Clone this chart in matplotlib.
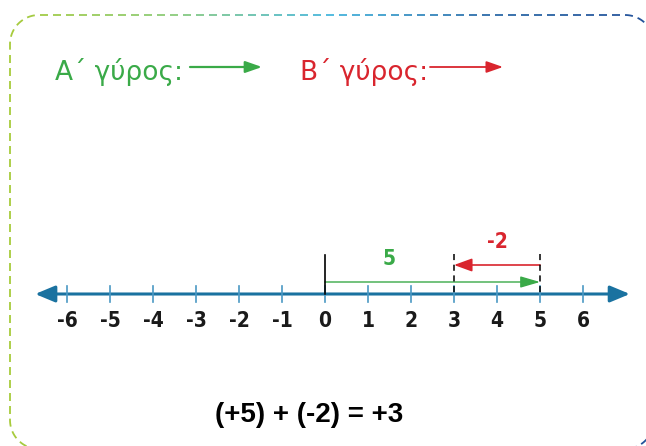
import numpy as np
import matplotlib
matplotlib.use("Agg")
import matplotlib.pyplot as plt
from matplotlib.patches import FancyArrowPatch
from matplotlib.collections import LineCollection
from matplotlib.colors import LinearSegmentedColormap

# data
ticks = [-6, -5, -4, -3, -2, -1, 0, 1, 2, 3, 4, 5, 6]
tick_labels = ["-6", "-5", "-4", "-3", "-2", "-1", "0", "1", "2", "3", "4", "5", "6"]
start = 0
first_move = 5      # A' round
second_move = -2    # B' round
result = start + first_move + second_move
equation = "(+5) + (-2) = +3"
legend_labels = ["Α΄ γύρος:", "Β΄ γύρος:"]

GREEN = "#3aaa48"
RED = "#d9252e"
AXIS_BLUE = "#1a72a0"
TICK_BLUE = "#4a98c4"

W, H = 646, 446
fig = plt.figure(figsize=(W / 100, H / 100), dpi=100)

# background axes in pixel coordinates (border, legend, equation)
bg = fig.add_axes([0, 0, 1, 1])
bg.set_xlim(0, W)
bg.set_ylim(H, 0)
bg.axis("off")

# number line axes: 1 unit = 43 px, zero at x=325 px
px0, unit = 325.0, 43.0
ax = fig.add_axes([0, 0, 1, 1])
ax.set_xlim((0 - px0) / unit, (W - px0) / unit)
ax.set_ylim(H, 0)
ax.axis("off")
ax.patch.set_alpha(0)


# dashed rounded border with colour gradient
def rounded_rect_points(x0, y0, x1, y1, r, n=60):
    pts = []
    corners = [(x1 - r, y0 + r, -90, 0), (x1 - r, y1 - r, 0, 90),
               (x0 + r, y1 - r, 90, 180), (x0 + r, y0 + r, 180, 270)]
    for cx, cy, a0, a1 in corners:
        a = np.radians(np.linspace(a0, a1, n))
        pts.extend(zip(cx + r * np.cos(a), cy + r * np.sin(a)))
    pts.append(pts[0])
    return np.array(pts)


pts = rounded_rect_points(10, 15, 654, 449, 29)
seg = np.diff(pts, axis=0)
d = np.concatenate([[0], np.cumsum(np.hypot(seg[:, 0], seg[:, 1]))])
dash, gap = 8.0, 5.0
cmap = LinearSegmentedColormap.from_list(
    "border", ["#a7cb3b", "#8ccb7a", "#45b6de", "#2c6aa8", "#24529a"])
dashes, colors = [], []
s = 0.0
while s < d[-1]:
    e = min(s + dash, d[-1])
    ss = np.linspace(s, e, 6)
    xs = np.interp(ss, d, pts[:, 0])
    ys = np.interp(ss, d, pts[:, 1])
    dashes.append(np.column_stack([xs, ys]))
    colors.append(cmap(np.clip((xs.mean() - 10) / 640, 0, 1)))
    s += dash + gap
bg.add_collection(LineCollection(dashes, colors=colors, linewidths=1.3))

# legend texts and arrows
bg.text(55, 80, legend_labels[0], color=GREEN, fontsize=19,
        family="DejaVu Sans", ha="left", va="baseline")
bg.add_patch(FancyArrowPatch((190, 67), (262, 67),
                             arrowstyle="-|>,head_length=1.0,head_width=0.35",
                             mutation_scale=10, color=GREEN, lw=1.6,
                             shrinkA=0, shrinkB=0))
bg.text(300, 80, legend_labels[1], color=RED, fontsize=19,
        family="DejaVu Sans", ha="left", va="baseline")
bg.add_patch(FancyArrowPatch((430, 67), (503, 67),
                             arrowstyle="-|>,head_length=1.0,head_width=0.35",
                             mutation_scale=10, color=RED, lw=1.3,
                             shrinkA=0, shrinkB=0))

# number line
line_y = 294
ax.add_patch(FancyArrowPatch((-6.74, line_y), (7.09, line_y),
                             arrowstyle="<|-|>,head_length=1.2,head_width=0.5",
                             mutation_scale=10, color=AXIS_BLUE, lw=2.2,
                             shrinkA=0, shrinkB=0))
for t, lab in zip(ticks, tick_labels):
    ax.plot([t, t], [286, 302], color=TICK_BLUE, lw=1.2)
    ax.text(t, 321, lab, ha="center", va="center", fontsize=15,
            fontweight="bold", family="DejaVu Sans", fontstretch="condensed",
            color="#1a1a1a")

# marker lines at start, result and end of first move
ax.plot([start, start], [255, line_y], color="black", lw=1.2)
for x in (result, start + first_move):
    ax.plot([x, x], [254, line_y], color="black", lw=1.1, ls=(0, (4, 3)))

# first move (green)
g_y = 282
ax.add_patch(FancyArrowPatch((start, g_y), (start + first_move, g_y),
                             arrowstyle="-|>,head_length=1.2,head_width=0.35",
                             mutation_scale=10, color=GREEN, lw=1.0,
                             shrinkA=0, shrinkB=0))
ax.text(1.5, 259, str(first_move), color=GREEN, fontsize=15,
        fontweight="bold", fontstretch="condensed", ha="center", va="center")

# second move (red)
r_y = 265
ax.add_patch(FancyArrowPatch((start + first_move, r_y), (result, r_y),
                             arrowstyle="-|>,head_length=1.1,head_width=0.4",
                             mutation_scale=10, color=RED, lw=1.2,
                             shrinkA=0, shrinkB=0))
ax.text(start + first_move + second_move / 2, 242, str(second_move),
        color=RED, fontsize=15, fontweight="bold", fontstretch="condensed",
        ha="center", va="center")

# equation
bg.text(309, 415, equation, ha="center", va="center", fontsize=20,
        fontweight="bold", family="Liberation Sans", color="black")

fig.savefig("out.png", dpi=100)
